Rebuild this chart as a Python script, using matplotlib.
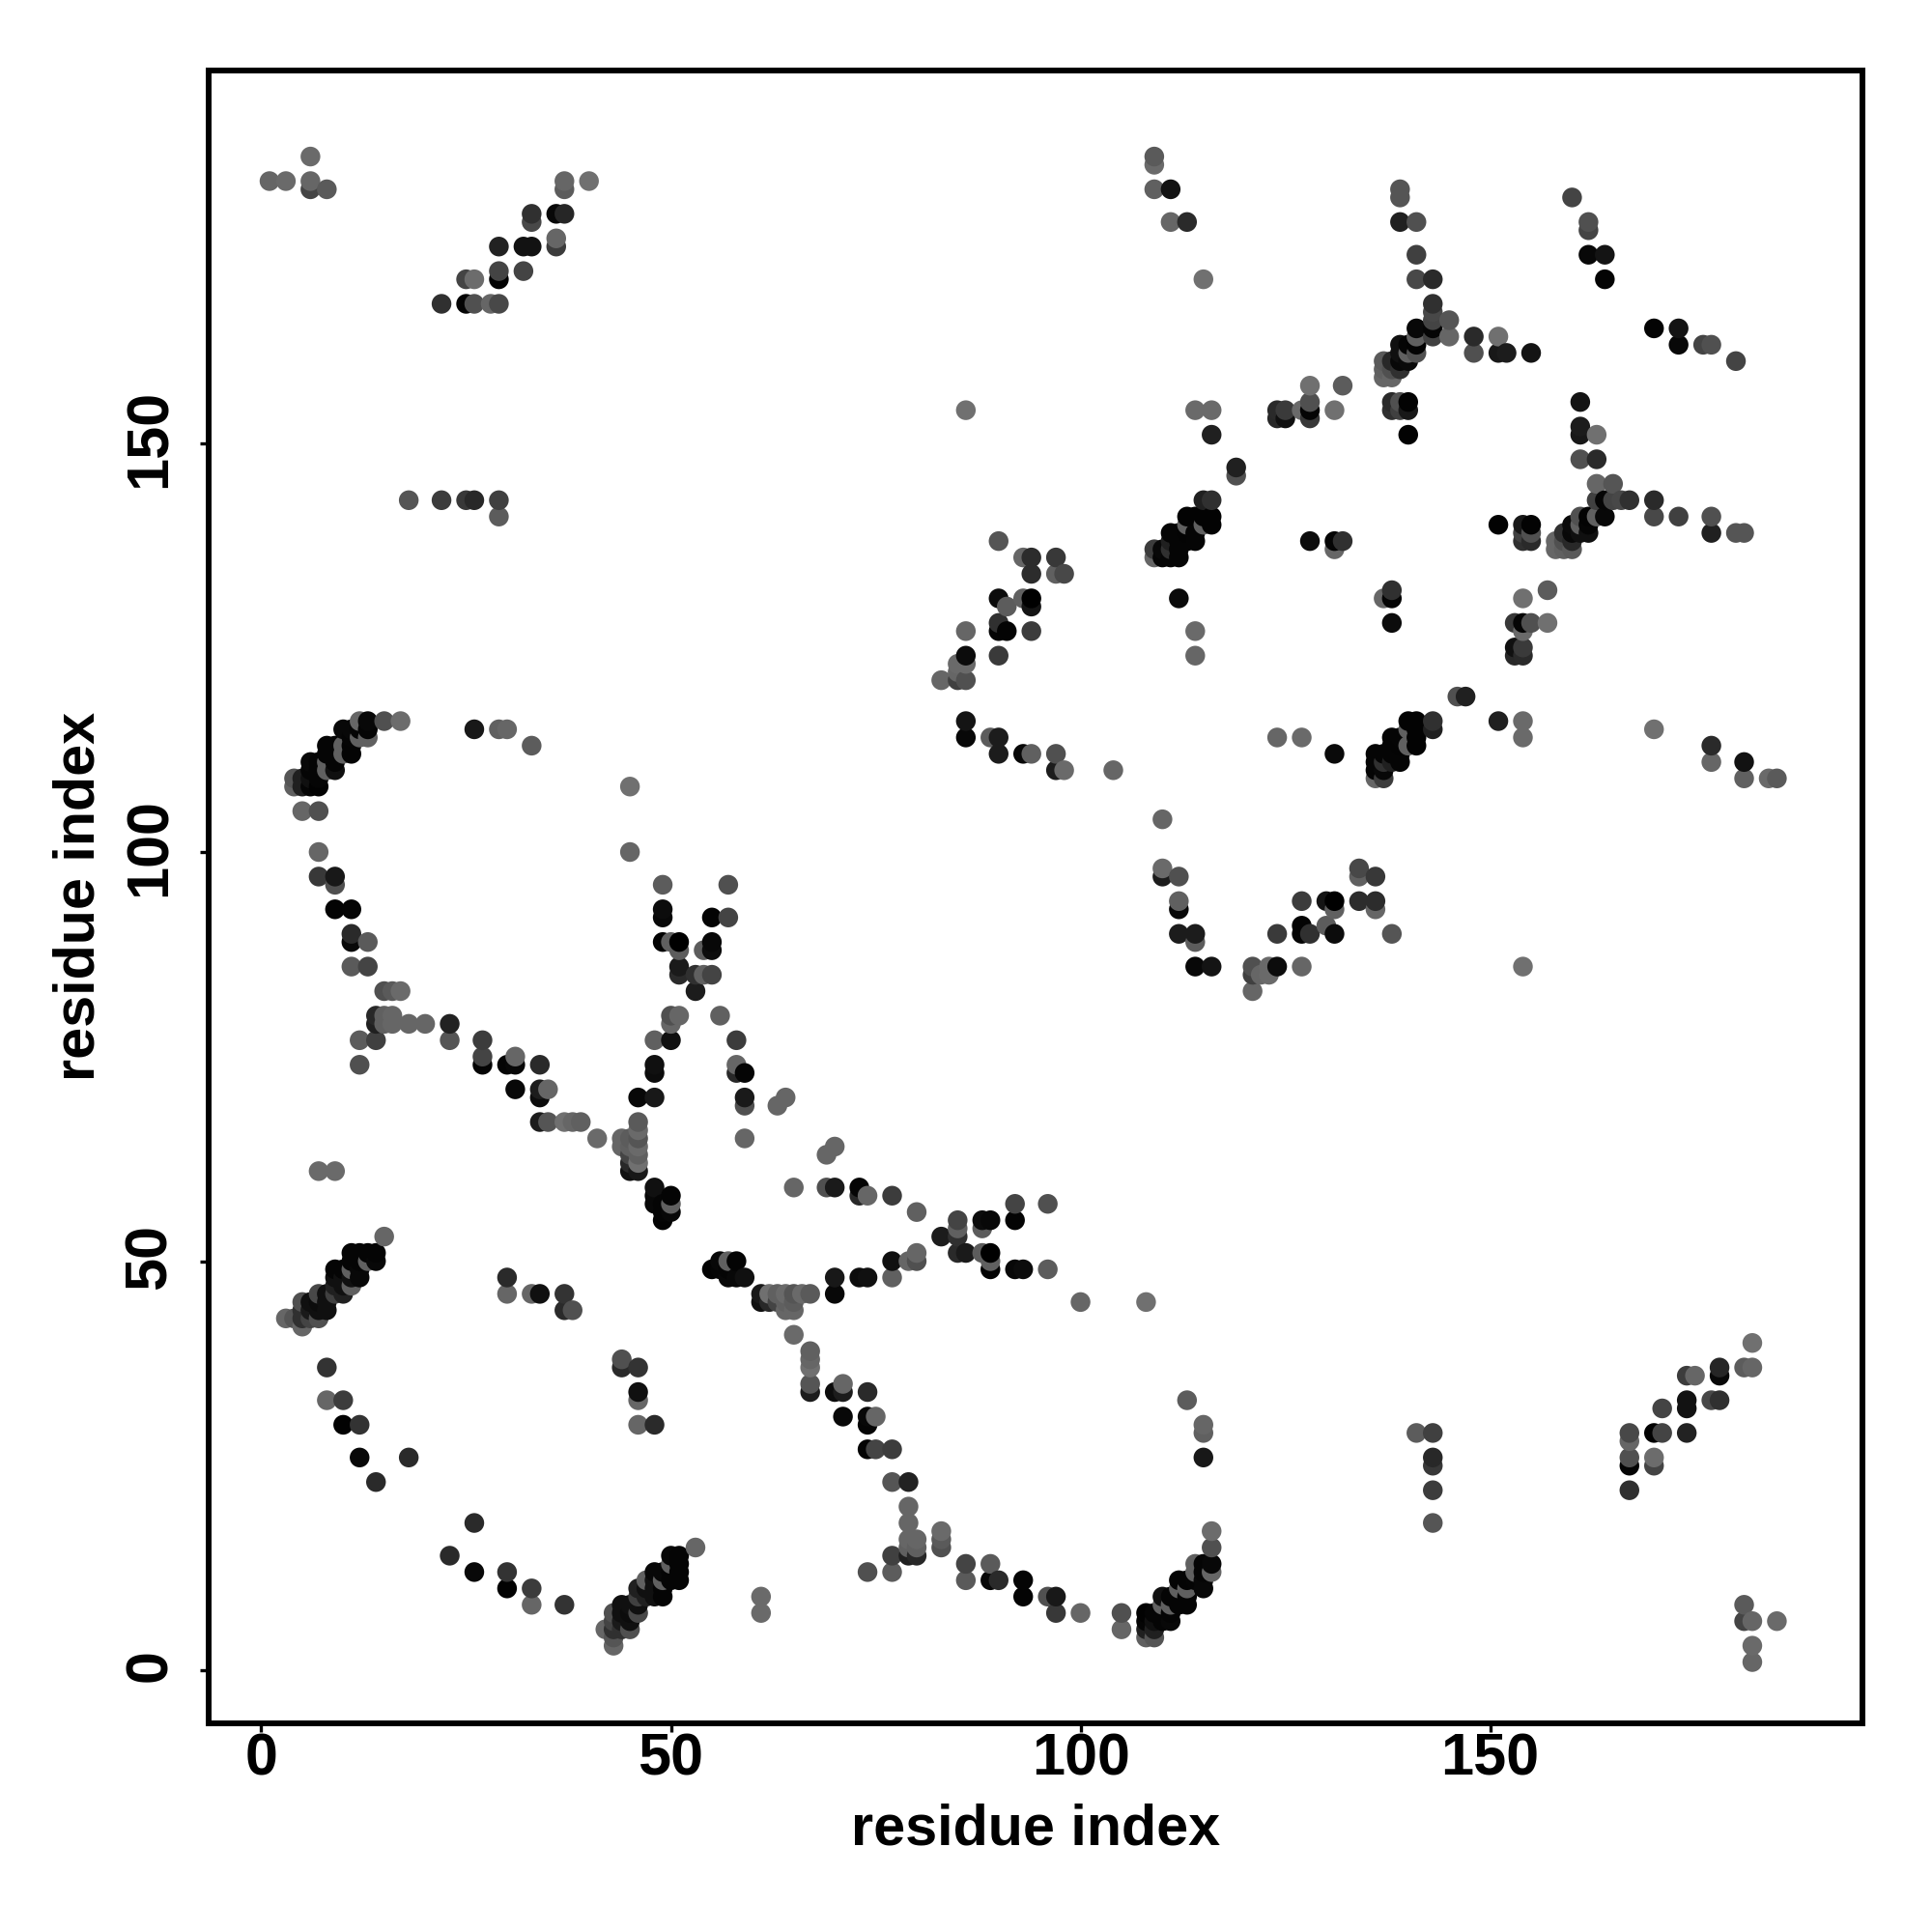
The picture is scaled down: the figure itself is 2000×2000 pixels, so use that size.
import matplotlib
matplotlib.use("Agg")
import matplotlib.pyplot as plt
from matplotlib.transforms import ScaledTranslation

# contacts as (residue i, residue j, grey level 0-255); each is plotted at (i,j) and (j,i)
sheet_a = [(5,42,0x66),(3,43,0x66),(4,43,0x55),(5,43,0x30),(6,43,0x44),(7,43,0x50),(5,44,0x30),(6,44,0x1a),(7,44,0x10),(8,44,0x10),
 (5,45,0x50),(6,45,0x10),(7,45,0x0c),(8,45,0x10),(7,46,0x48),(8,46,0x10),(9,46,0x40),(10,46,0x20),(9,47,0x20),(9,48,0x10),(9,49,0x05),
 (10,47,0x10),(10,48,0x10),(10,49,0x05),(11,47,0x60),(11,48,0x10),(11,49,0x60),(11,50,0x05),(11,51,0x05),(12,48,0x08),(12,49,0x08),
 (12,50,0x05),(12,51,0x05),(13,50,0x60),(13,51,0x05),(14,50,0x08),(14,51,0x05),(15,53,0x66)]
near_a = [(8,37,0x33),(8,33,0x66),(10,33,0x3c),(10,30,0x02),(12,30,0x33),(12,26,0x08),(18,26,0x2a),(14,23,0x2a),(30,48,0x2a),(30,46,0x66),
 (33,46,0x66),(34,46,0x10),(37,46,0x33),(37,44,0x2a),(38,44,0x50),(7,61,0x6a),(9,61,0x6a)]
knot_a = [(48,59,0x10),(48,58,0x08),(48,57,0x08),(49,57,0x05),(50,57,0x60),(50,58,0x04),(50,56,0x08),(49,56,0x05),(49,55,0x03)]
sheet_b = [(12,116,0x66),(13,116,0x08),(15,116,0x50),(17,116,0x6c),(10,115,0x08),(11,115,0x08),(12,115,0x05),(13,115,0x05),(11,114,0x05),(12,114,0x60),
 (13,114,0x60),(8,113,0x05),(9,113,0x05),(10,113,0x60),(11,113,0x04),(8,112,0x05),(9,112,0x05),(10,112,0x60),(11,112,0x04),(6,111,0x08),(7,111,0x05),
 (8,111,0x60),(9,111,0x05),(6,110,0x05),(7,110,0x05),(8,110,0x60),(9,110,0x10),(4,109,0x55),(5,109,0x20),(6,109,0x10),(7,109,0x05),(4,108,0x60),
 (5,108,0x20),(6,108,0x05),(7,108,0x02),(5,105,0x66),(7,105,0x50),(7,100,0x6a),(7,97,0x3c),(9,97,0x14),(9,96,0x44),(9,93,0x03),(11,93,0x05),
 (11,90,0x30),(11,89,0x03),(13,89,0x60),(11,86,0x60),(13,86,0x48),(15,83,0x4c),(16,83,0x55),(17,83,0x6a)]
mid_line = [(26,115,0x18),(29,115,0x60),(30,115,0x66),(33,113,0x5c),(45,108,0x6a),(45,100,0x66),(49,96,0x5c),(57,96,0x44),(49,93,0x02),(49,92,0x08),
 (55,92,0x0c),(57,92,0x4a),(49,89,0x02),(50,89,0x66),(51,89,0x00),(51,88,0x55),(55,89,0x08),(55,88,0x10),(54,88,0x66),(51,86,0x14),(51,85,0x28),
 (53,85,0x40),(54,85,0x6a),(55,85,0x44),(53,83,0x1c),(50,80,0x4c),(51,80,0x66),(50,79,0x66),(56,80,0x66),(48,77,0x60),(50,77,0x14),(58,77,0x3c),
 (48,74,0x10),(48,73,0x0a),(58,74,0x70),(58,73,0x30),(59,73,0x05),(59,70,0x18),(59,69,0x44),(59,65,0x66),(46,70,0x0a),(48,70,0x10)]
left_line = [(14,80,0x30),(14,79,0x28),(15,80,0x55),(16,80,0x66),(15,79,0x60),(16,79,0x66),(18,79,0x66),(20,79,0x66),(23,79,0x20),(23,77,0x60),
 (12,77,0x55),(14,77,0x40),(12,74,0x55),(27,77,0x3c),(27,75,0x48),(27,74,0x05),(30,74,0x08),(31,74,0x10),(31,75,0x60),(34,74,0x2c),(31,71,0x0a),
 (34,71,0x08),(34,70,0x10),(35,71,0x60),(34,67,0x14),(35,67,0x50),(37,67,0x66),(38,67,0x60),(39,67,0x66),(41,65,0x66)]
core_a = [(46,67,0x5c),(46,66,0x66),(46,65,0x50),(44,65,0x66),(45,65,0x50),(44,64,0x66),(45,64,0x40),(46,64,0x66),(45,63,0x50),(46,63,0x60),
 (45,62,0x28),(46,62,0x6c),(45,61,0x0c),(46,61,0x18),(64,70,0x66),(63,69,0x66)]
beta_c = [(86,127,0x66),(90,127,0x05),(91,127,0x04),(90,128,0x30),(94,127,0x3c),(114,127,0x6a),(114,124,0x66),(86,124,0x0c),(90,124,0x3a),(85,123,0x6a),
 (86,123,0x6a),(85,122,0x66),(83,121,0x66),(85,121,0x40),(86,121,0x50),(86,116,0x14),(86,114,0x08),(89,114,0x5c),(90,114,0x1c),(90,112,0x1c),(93,112,0x08),
 (94,112,0x60),(97,112,0x50),(97,110,0x1c),(98,110,0x6a),(104,110,0x66),(90,131,0x0c),(91,130,0x5c),
 (93,131,0x60),(94,131,0x00),(94,130,0x14),(94,134,0x2c),(97,134,0x60),(98,134,0x48),(93,136,0x66),(94,136,0x2c),(97,136,0x38),(90,138,0x55),(86,154,0x70)]
core_b = [(109,185,0x5c),(109,184,0x6c),(109,181,0x6a),(111,181,0x14),(111,177,0x6a),(113,177,0x2a),(115,170,0x6c),(114,154,0x6c),(116,154,0x66),
 (116,151,0x20),(119,147,0x1c),(119,146,0x3a),(115,143,0x1c),(116,143,0x30),(113,141,0x04),(114,141,0x04),(116,141,0x04),(116,140,0x04),(115,140,0x60),
 (113,140,0x60),(114,139,0x04),(113,139,0x04),(111,139,0x04),(111,138,0x04),(112,138,0x60),(113,138,0x60),(114,138,0x04),(110,137,0x10),(111,137,0x05),
 (109,137,0x3c),(109,136,0x66),(110,136,0x05),(111,136,0x05),(112,136,0x05),(112,131,0x0a)]
core_c = [(124,154,0x2a),(125,154,0x3a),(124,153,0x28),(125,153,0x10),(127,154,0x6a),(128,157,0x70),(128,155,0x50),(128,154,0x05),(128,153,0x38),(128,138,0x0c),
 (131,154,0x70),(132,157,0x5c),(131,138,0x05),(132,138,0x30),(131,137,0x66),(138,132,0x30)]
sheet_d = [(143,116,0x30),(143,115,0x20),(140,116,0x03),(141,116,0x03),(140,115,0x60),(141,115,0x03),(141,114,0x03),(141,113,0x03),(140,113,0x60),
 (139,114,0x05),(138,114,0x05),(138,113,0x05),(139,112,0x05),(139,111,0x05),(138,112,0x05),(138,111,0x20),(137,112,0x05),(136,112,0x05),(136,111,0x05),
 (137,111,0x30),(136,110,0x05),(137,110,0x08),(136,109,0x66),(137,109,0x3c)]
far_d = [(131,112,0x0a),(151,116,0x20),(146,119,0x50),(147,119,0x20),(154,116,0x6a),(154,114,0x6a),(170,115,0x70),(177,113,0x2a),(177,111,0x66),(181,111,0x12),
 (181,109,0x60),(184,109,0x6a),(185,109,0x5a)]
star_e = [(139,181,0x60),(139,180,0x5a),(139,177,0x22),(141,177,0x50),(141,173,0x40),(141,170,0x40),(143,170,0x30),(143,167,0x35),(143,166,0x48),(143,165,0x40),
 (143,164,0x05),(143,163,0x40),(145,165,0x55),(145,163,0x60),(148,163,0x30),(148,161,0x55),(151,163,0x70),(151,161,0x14),(152,161,0x20),(155,161,0x1a),
 (141,164,0x08),(141,163,0x40),(141,162,0x10),(141,161,0x48),(140,162,0x08),(139,162,0x10),(139,161,0x08),(140,161,0x08),(139,160,0x08),(140,160,0x10),
 (139,159,0x44),(138,160,0x50),(137,160,0x60),(137,159,0x60),(138,159,0x55),(137,158,0x66),(138,158,0x6a),(138,155,0x40),(139,155,0x60),(140,155,0x00),
 (138,154,0x30),(139,154,0x50),(140,154,0x10),(140,151,0x00),(160,180,0x48),(162,177,0x55),(162,176,0x3c),(162,173,0x0a),(164,173,0x14),(164,170,0x04),
 (173,164,0x14),(173,162,0x08),(176,162,0x44),(177,162,0x50)]
star_f = [(161,155,0x14),(161,152,0x1c),(161,151,0x18),(163,151,0x70),(161,148,0x50),(163,148,0x2a),(163,145,0x66),(165,145,0x55),(163,143,0x40),(164,143,0x05),
 (165,143,0x44),(166,143,0x48),(167,143,0x30),(170,143,0x2a),(170,141,0x48),(173,141,0x40),(177,141,0x50),(177,139,0x20),(180,139,0x55),(181,139,0x55),
 (164,141,0x08),(163,141,0x60),(162,141,0x03),(161,141,0x50),(162,140,0x05),(162,139,0x10),(161,139,0x10),(160,140,0x0a),(160,139,0x08),(160,138,0x28),
 (161,140,0x60),(159,139,0x30),(159,138,0x50),(158,138,0x66),(158,137,0x66),(159,137,0x60),(160,137,0x5a),(151,140,0x02),(154,140,0x18),(155,140,0x03),
 (154,139,0x40),(155,139,0x50),(154,138,0x30),(155,138,0x2a)]
far_g = [(141,29,0x5c),(143,29,0x40),(143,26,0x28),(143,25,0x38),(143,22,0x3c),(143,18,0x55),(167,29,0x48),(167,28,0x66),(167,26,0x50),(167,25,0x04),(167,22,0x30),
 (170,26,0x6c),(170,25,0x44),(170,29,0x02),(171,29,0x44),(171,32,0x44),(174,33,0x12),(174,32,0x12),(174,29,0x22),(177,33,0x48),(178,33,0x30),(174,36,0x3c),
 (175,36,0x66),(178,37,0x26),(178,36,0x08),(181,37,0x5c),(182,37,0x66),(182,40,0x70),(181,8,0x5a),(181,6,0x44),(182,6,0x66),(185,6,0x6a),(182,3,0x6a),(182,1,0x66)]
lower_h = [(65,59,0x66),(69,59,0x50),(70,59,0x1a),(73,59,0x05),(73,58,0x28),(74,58,0x66),(77,58,0x3c),(80,56,0x60),(88,54,0x5c),(88,51,0x5c),(89,51,0x00),(89,50,0x60),
 (89,49,0x03),(92,57,0x44),(92,55,0x04),(96,57,0x50),(92,49,0x08),(93,49,0x0c),(96,49,0x5c),(88,55,0x0c),(89,55,0x08),(85,55,0x44),(86,51,0x1a),(85,51,0x2a),(85,53,0x30),(85,54,0x60),(83,53,0x1c),
 (77,50,0x10),(79,50,0x66),(80,50,0x50),(80,51,0x66),(77,48,0x60),(70,48,0x18),(70,46,0x08),(73,48,0x0c),(74,48,0x10),(100,45,0x66),(108,45,0x70),
 (62,46,0x70),(61,45,0x10),(62,45,0x28),(63,45,0x44),(64,46,0x6a),(64,45,0x60),(64,44,0x66),(65,46,0x55),(65,44,0x66),(65,45,0x5c),(66,46,0x6a),(67,46,0x5a),(65,41,0x6a),
 (67,39,0x60),(67,38,0x66),(67,37,0x70),(67,35,0x55),(67,34,0x1c),(70,34,0x0c),(71,34,0x1c),(71,35,0x66),(74,34,0x2a),(71,31,0x08),(74,31,0x08),(74,30,0x05),
 (75,31,0x66),(74,27,0x04),(75,27,0x44),(77,27,0x3c),(77,23,0x55),(79,23,0x22),(79,20,0x66),(79,18,0x66),(79,16,0x66),(80,16,0x66),(79,15,0x60),(80,15,0x60),
 (79,14,0x20),(80,14,0x28),(77,14,0x40),(77,12,0x5c),(74,12,0x50),(83,17,0x6a),(83,16,0x5a),(83,15,0x50),(86,13,0x44),(86,11,0x5a),(89,13,0x5a),(89,11,0x08),(90,11,0x2a),
 (93,11,0x05),(93,9,0x04),(96,9,0x50),(97,9,0x18),(97,7,0x38),(100,7,0x66),(105,7,0x50),(105,5,0x66)]
extra_pairs = [(180,160,0x44),(164,170,0x04),(138,128,0x0c),(131,138,0x05),(138,131,0x05),(137,131,0x66)]

contact_groups = [sheet_a, near_a, knot_a, sheet_b, mid_line, left_line, core_a, beta_c, core_b, core_c,
                  sheet_d, far_d, star_e, star_f, far_g, lower_h, extra_pairs]
tick_values = [0, 50, 100, 150]
axis_label = "residue index"

plt.rcParams['font.family'] = ['Liberation Sans', 'DejaVu Sans']
fig = plt.figure(figsize=(10, 10), dpi=200)
ax = fig.add_axes([216.3/2000, 1-1784/2000, (1927.8-216.3)/2000, (1784-72.7)/2000])

seen = {}
for group in contact_groups:
    for a, b, g in group:
        seen[(a, b)] = g
        seen[(b, a)] = g
points = sorted(seen.items())
xs = [p[0][0] for p in points]
ys = [p[0][1] for p in points]
cols = [(p[1]/255,)*3 for p in points]
ax.scatter(xs, ys, c=cols, s=54, linewidths=0, zorder=3)

ax.set_xlim(-6.39, 195.42)
ax.set_ylim(-6.49, 195.55)
ax.set_xticks(tick_values)
ax.set_yticks(tick_values)
for sp in ax.spines.values():
    sp.set_linewidth(2.15)
ax.tick_params(axis='x', direction='out', length=3.2, width=1.2, pad=0.3, labelsize=22)
ax.tick_params(axis='y', direction='out', length=3.2, width=1.2, pad=8.2, labelsize=22)
for t in ax.get_xticklabels():
    t.set_fontweight('bold')
shift_up = ScaledTranslation(0, 5/200, fig.dpi_scale_trans)
for t in ax.get_yticklabels():
    t.set_fontweight('bold')
    t.set_rotation(90)
    t.set_va('center')
    t.set_transform(t.get_transform() + shift_up)
ax.set_xlabel(axis_label, fontsize=21.4, fontweight='bold', labelpad=5.5)
ax.set_ylabel(axis_label, fontsize=21.4, fontweight='bold', labelpad=6.7)
fig.savefig('out.png', dpi=200, facecolor='white')
